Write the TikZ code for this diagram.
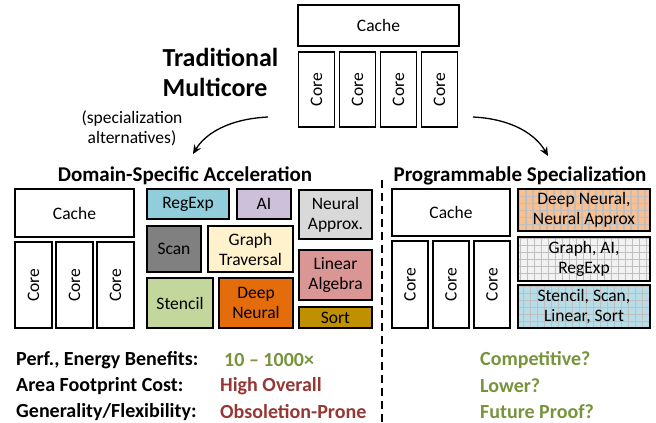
\documentclass[tikz,border=0pt]{standalone}
\usepackage{fontspec}
\setmainfont{Carlito}
\usepackage{xcolor}
\usepackage{tikz}
\usetikzlibrary{positioning, arrows.meta}
\definecolor{dsBlue}{HTML}{92CDDC}
\definecolor{dsLilac}{HTML}{CCC0DA}
\definecolor{dsGray}{HTML}{808080}
\definecolor{dsCream}{HTML}{FFF2CC}
\definecolor{dsGreen}{HTML}{C3D69B}
\definecolor{dsOrange}{HTML}{E46C0A}
\definecolor{dsSilver}{HTML}{D9D9D9}
\definecolor{dsRose}{HTML}{DA9694}
\definecolor{dsGold}{HTML}{BF9000}
\definecolor{psOrange}{HTML}{FAC090}
\definecolor{psGray}{HTML}{F2F2F2}
\definecolor{psBlue}{HTML}{B7DEE8}
\definecolor{okGreen}{HTML}{77933C}
\definecolor{badRed}{HTML}{953735}
\tikzset{
    base/.style={
        font=\fontsize{17.5}{20}\selectfont,
        align=center
    },
    blk/.style={
        base,
        rectangle,
        draw=black,
        line width=1.3pt,
        fill=white,
        inner sep=0pt
    },
    core/.style={
        blk,
        rotate=90
    },
    accel/.style={
        blk,
        line width=1.8pt,
        fill=#1
    },
    gridded/.style={
        accel=#1,
        path picture={
            \draw[black!25, line width=1.1pt]
                (path picture bounding box.south west) grid[step=7pt]
                (path picture bounding box.north east);
        }
    },
    heading/.style={
        font=\fontsize{21}{24}\selectfont\bfseries
    },
    metric/.style={
        font=\fontsize{20}{24}\selectfont\bfseries,
        anchor=west,
        inner sep=0pt
    },
    flow/.style={
        -{Stealth[length=9pt, width=8pt]},
        line width=1.3pt
    }
}
\begin{document}
\begin{tikzpicture}[x=1pt, y=-1pt]
    \useasboundingbox (0,0) rectangle (656,423);

    % Traditional multicore
    \node[blk, minimum width=161, minimum height=41] (cacheT) at (378.5,25.5) {Cache};
    \foreach \i in {0,1,2,3} {
        \node[core, minimum width=75, minimum height=36] (coreT\i) at (316.5+41*\i,89.5) {Core};
    }
    \node[font=\fontsize{26}{30}\selectfont\bfseries, align=left, anchor=west] (trad) at (159,72) {Traditional\\Multicore};
    \node[base] (alt) at (132,128) {(specialization\\alternatives)};

    \coordinate (fromL) at (268,117);
    \coordinate (toL) at (193,154);
    \coordinate (fromR) at (473,117);
    \coordinate (toR) at (548,156);
    \draw[flow] (fromL) .. controls (228,119) and (205,134) .. (toL);
    \draw[flow] (fromR) .. controls (513,119) and (536,135) .. (toR);

    % Domain-specific acceleration
    \node[heading] (dsaHead) at (185,176) {Domain-Specific Acceleration};
    \node[blk, minimum width=119, minimum height=48] (cacheL) at (74.5,213) {Cache};
    \foreach \i in {0,1,2} {
        \node[core, minimum width=86, minimum height=37] (coreL\i) at (33.5+41*\i,285) {Core};
    }
    \node[accel=dsBlue, minimum width=82, minimum height=30] (regexp) at (188,204) {RegExp};
    \node[accel=dsLilac, minimum width=54, minimum height=30] (ai) at (264,204) {AI};
    \node[accel=dsGray, minimum width=54, minimum height=46] (scan) at (174,249) {Scan};
    \node[accel=dsCream, minimum width=85, minimum height=46] (graph) at (250.5,249) {Graph\\Traversal};
    \node[accel=dsGreen, minimum width=66, minimum height=50] (stencil) at (180,303) {Stencil};
    \node[accel=dsOrange, minimum width=74, minimum height=50] (deep) at (256,303) {Deep\\Neural};
    \node[accel=dsSilver, minimum width=73, minimum height=49] (approx) at (335.5,214.5) {Neural\\Approx.};
    \node[accel=dsRose, minimum width=73, minimum height=50] (linear) at (335.5,275) {Linear\\Algebra};
    \node[accel=dsGold, minimum width=73, minimum height=21] (sort) at (335.5,317.5) {Sort};

    % Divider
    \coordinate (divTop) at (382,180);
    \coordinate (divBot) at (382,423);
    \draw[line width=1.2pt, dash pattern=on 8pt off 5pt] (divTop) -- (divBot);

    % Programmable specialization
    \node[heading] (psHead) at (520,176) {Programmable Specialization};
    \node[blk, minimum width=118, minimum height=47] (cacheR) at (451,212.5) {Cache};
    \foreach \i in {0,1,2} {
        \node[core, minimum width=87, minimum height=36] (coreR\i) at (410+41*\i,284.5) {Core};
    }
    \node[gridded=psOrange, minimum width=132, minimum height=42] (fabA) at (584,210) {Deep Neural,\\Neural Approx};
    \node[gridded=psGray, minimum width=132, minimum height=44] (fabB) at (584,259) {Graph, AI,\\RegExp};
    \node[gridded=psBlue, minimum width=132, minimum height=43] (fabC) at (584,306.5) {Stencil, Scan,\\Linear, Sort};

    % Comparison
    \node[metric] (perf) at (16,360) {Perf., Energy Benefits:};
    \node[metric] (area) at (16,386) {Area Footprint Cost:};
    \node[metric] (gen) at (16,412) {Generality/Flexibility:};
    \node[metric, text=okGreen] (perfL) at (224,360) {10 -- 1000×};
    \node[metric, text=badRed] (areaL) at (220,386) {High Overall};
    \node[metric, text=badRed] (genL) at (220,412) {Obsoletion-Prone};
    \node[metric, text=okGreen] (perfR) at (480,360) {Competitive?};
    \node[metric, text=okGreen] (areaR) at (480,386) {Lower?};
    \node[metric, text=okGreen] (genR) at (480,412) {Future Proof?};
\end{tikzpicture}
\end{document}
